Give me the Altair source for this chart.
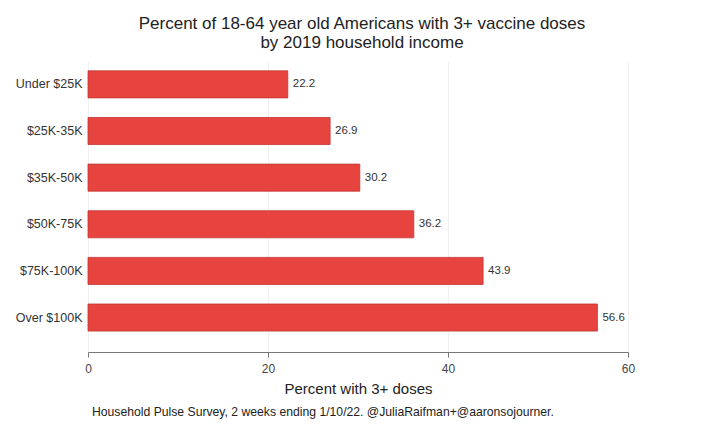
import altair as alt
import pandas as pd

categories = ["Under $25K", "$25K-35K", "$35K-50K", "$50K-75K", "$75K-100K", "Over $100K"]
values = [22.2, 26.9, 30.2, 36.2, 43.9, 56.6]
x_ticks = [0, 20, 40, 60]

df = pd.DataFrame({"income": categories, "pct": values})
FONT = "Liberation Sans"

y = alt.Y("income:N", sort=categories, title=None,
          scale=alt.Scale(paddingInner=0.42, paddingOuter=0.33, align=0.32),
          axis=alt.Axis(ticks=False, domain=False, labelFontSize=12.5, labelColor="#333",
                        labelPadding=6, labelFont=FONT))
x = alt.X("pct:Q", title="Percent with 3+ doses",
          scale=alt.Scale(domain=[0, 60], nice=False),
          axis=alt.Axis(values=x_ticks, format="d", grid=True, gridColor="#f0f0f0",
                        domainColor="#777", tickColor="#777", tickSize=5, labelFlush=False,
                        labelFontSize=12, labelColor="#444", labelPadding=6,
                        titleFontSize=15, titleFontWeight="normal", titleColor="#222",
                        titlePadding=7, labelFont=FONT, titleFont=FONT))

bars = alt.Chart(df).mark_bar(color="#E8443F", stroke="#C23430", strokeWidth=0.8).encode(x=x, y=y)
labels = alt.Chart(df).mark_text(align="left", dx=5, fontSize=11.5, color="#333", font=FONT).encode(
    x="pct:Q", y=alt.Y("income:N", sort=categories), text=alt.Text("pct:Q", format=".1f"))
footer = alt.Chart(pd.DataFrame({"t": ["Household Pulse Survey, 2 weeks ending 1/10/22. @JuliaRaifman+@aaronsojourner."]})).mark_text(
    align="left", baseline="middle", fontSize=12.2, color="#222", font=FONT).encode(
    x=alt.value(4), y=alt.value(351), text="t:N")

chart = alt.layer(bars, labels, footer).properties(
    width=540, height=291,
    autosize=alt.AutoSizeParams(type="none"),
    padding={"left": 80, "top": 53, "right": 70, "bottom": 70},
    title=alt.Title(["Percent of 18-64 year old Americans with 3+ vaccine doses", "by 2019 household income"],
                    fontSize=17, fontWeight="normal", color="#222", font=FONT, offset=9, dx=4,
                    lineHeight=19),
).configure_view(stroke=None)

chart.save("out.html", embed_options={"renderer": "svg", "actions": False})
